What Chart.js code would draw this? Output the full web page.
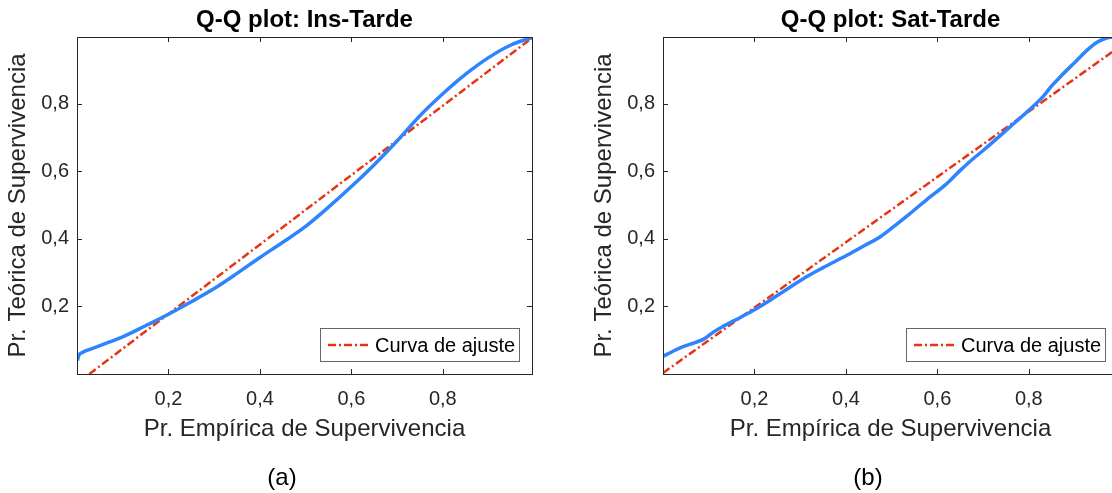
<!DOCTYPE html>
<html>
<head>
<meta charset="utf-8">
<script src="https://cdn.jsdelivr.net/npm/chart.js@4.4.1/dist/chart.umd.min.js"></script>
<style>
  html, body { margin: 0; padding: 0; background: #fff; overflow: hidden; }
  #wrap { position: relative; width: 1112px; height: 493px; overflow: hidden; }
  canvas { position: absolute; top: 0; }
  .cap { position: absolute; top: 463px; width: 100px; text-align: center; line-height: 28px;
         font: 24px 'Liberation Sans', Arial, sans-serif; color: #000; }
</style>
</head>
<body>
<div id="wrap">
  <canvas id="qqIns" width="556" height="493" style="left:0"></canvas>
  <canvas id="qqSat" width="556" height="493" style="left:586px"></canvas>
  <div class="cap" style="left:232px">(a)</div>
  <div class="cap" style="left:818px">(b)</div>
</div>
<script>
// tick positions and labels (decimal comma)
var tickValues = [0.2, 0.4, 0.6, 0.8];
var tickLabels = ['0,2', '0,4', '0,6', '0,8'];

// Ins-Tarde: empirical vs theoretical survival probability
var insEmp = [0.001, 0.004, 0.012, 0.03, 0.06, 0.1, 0.15, 0.2, 0.25, 0.3, 0.35, 0.4, 0.45,
              0.5, 0.55, 0.6, 0.65, 0.7, 0.75, 0.8, 0.85, 0.9, 0.95, 0.98, 0.995];
var insTeo = [0.040, 0.055, 0.064, 0.074, 0.089, 0.110, 0.143, 0.177, 0.214, 0.253, 0.298, 0.345, 0.390,
              0.437, 0.494, 0.555, 0.620, 0.690, 0.765, 0.830, 0.888, 0.937, 0.975, 0.990, 0.996];
var insFitX = [0.027, 0.995];
var insFitY = [0.0, 0.995];

// Sat-Tarde
var satEmp = [0.001, 0.02, 0.04, 0.07, 0.09, 0.11, 0.13, 0.17, 0.2, 0.23, 0.27, 0.31, 0.35, 0.4, 0.44,
              0.47, 0.5, 0.54, 0.58, 0.62, 0.65, 0.67, 0.7, 0.74, 0.78, 0.8, 0.83, 0.85, 0.87, 0.9,
              0.93, 0.95, 0.97, 0.985];
var satTeo = [0.053, 0.066, 0.079, 0.093, 0.104, 0.124, 0.140, 0.168, 0.190, 0.215, 0.250, 0.285, 0.315, 0.350, 0.380,
              0.402, 0.432, 0.475, 0.520, 0.563, 0.603, 0.628, 0.662, 0.709, 0.757, 0.781, 0.820, 0.853, 0.882, 0.922,
              0.962, 0.983, 0.995, 0.998];
var satFitX = [0.0, 0.995];
var satFitY = [0.003, 0.966];

var FONT = "'Liberation Sans', Arial, sans-serif";
var AXIS_COLOR = '#262626';
var BLUE = '#2e83ff';
var RED = '#e63312';
var DASH = [8, 3, 2, 3];

Chart.defaults.font.family = FONT;

function pts(xs, ys) {
  return xs.map(function (x, i) { return { x: x, y: ys[i] }; });
}

// box around the axes with inward ticks on all four sides
var framePlugin = {
  id: 'frame',
  afterDatasetsDraw: function (chart) {
    var ctx = chart.ctx, a = chart.chartArea;
    var xs = chart.scales.x, ys = chart.scales.y;
    ctx.save();
    ctx.strokeStyle = AXIS_COLOR;
    ctx.lineWidth = 1;
    ctx.beginPath();
    xs.ticks.forEach(function (t) {
      var px = Math.round(xs.getPixelForValue(t.value)) + 0.5;
      ctx.moveTo(px, a.bottom); ctx.lineTo(px, a.bottom - 5);
      ctx.moveTo(px, a.top); ctx.lineTo(px, a.top + 5);
    });
    ys.ticks.forEach(function (t) {
      var py = Math.round(ys.getPixelForValue(t.value)) + 0.5;
      ctx.moveTo(a.left, py); ctx.lineTo(a.left + 5, py);
      ctx.moveTo(a.right, py); ctx.lineTo(a.right - 5, py);
    });
    ctx.stroke();
    ctx.strokeRect(a.left + 0.5, a.top + 0.5, a.width, a.height);
    ctx.restore();
  }
};

// legend box inside the axes, lower right
var fitLegend = {
  id: 'fitLegend',
  afterDraw: function (chart) {
    var ctx = chart.ctx, a = chart.chartArea;
    var ds = chart.data.datasets[1];
    var bx = a.left + 243, by = a.bottom - 46, bw = 199, bh = 33;
    ctx.save();
    ctx.fillStyle = '#fff';
    ctx.fillRect(bx, by, bw, bh);
    ctx.strokeStyle = '#666';
    ctx.lineWidth = 1;
    ctx.strokeRect(bx + 0.5, by + 0.5, bw, bh);
    var cy = by + bh / 2 + 0.5;
    ctx.strokeStyle = ds.borderColor;
    ctx.lineWidth = ds.borderWidth;
    ctx.setLineDash(ds.borderDash);
    ctx.beginPath();
    ctx.moveTo(bx + 8, cy); ctx.lineTo(bx + 50, cy);
    ctx.stroke();
    ctx.setLineDash([]);
    ctx.fillStyle = '#000';
    ctx.font = '20px ' + FONT;
    ctx.textBaseline = 'middle';
    ctx.textAlign = 'left';
    ctx.fillText(ds.label, bx + 55, cy + 1);
    ctx.restore();
  }
};

function qqChart(id, title, emp, teo, fitX, fitY) {
  return new Chart(document.getElementById(id), {
    type: 'line',
    data: {
      datasets: [{
        label: 'Datos',
        data: pts(emp, teo),
        borderColor: BLUE,
        borderWidth: 3.5,
        pointRadius: 0,
        cubicInterpolationMode: 'monotone',
        clip: 0
      }, {
        label: 'Curva de ajuste',
        data: pts(fitX, fitY),
        borderColor: RED,
        borderWidth: 2.5,
        borderDash: DASH,
        pointRadius: 0,
        clip: 0
      }]
    },
    options: {
      responsive: false,
      animation: false,
      devicePixelRatio: 1,
      layout: { padding: { left: 0, right: 24, top: 0, bottom: 0 } },
      plugins: {
        legend: { display: false },
        tooltip: { enabled: false },
        title: {
          display: true,
          text: title,
          color: '#000',
          fullSize: false,
          font: { size: 24, weight: 'bold' },
          padding: { top: 5.6, bottom: 2.6 }
        }
      },
      scales: {
        x: {
          type: 'linear',
          min: 0,
          max: 0.995,
          afterBuildTicks: function (s) { s.ticks = tickValues.map(function (v) { return { value: v }; }); },
          afterFit: function (s) { s.height = 119; },
          ticks: {
            autoSkip: false,
            maxRotation: 0,
            padding: 13,
            color: AXIS_COLOR,
            font: { size: 20 },
            callback: function (v) { return tickLabels[tickValues.indexOf(v)]; }
          },
          grid: { display: false, drawTicks: false },
          border: { display: false },
          title: {
            display: true,
            text: 'Pr. Empírica de Supervivencia',
            color: AXIS_COLOR,
            font: { size: 24 },
            padding: { top: 0, bottom: 49.5 }
          }
        },
        y: {
          type: 'linear',
          min: 0,
          max: 0.998,
          afterBuildTicks: function (s) { s.ticks = tickValues.map(function (v) { return { value: v }; }); },
          afterFit: function (s) { s.width = 77; },
          ticks: {
            autoSkip: false,
            padding: 8,
            color: AXIS_COLOR,
            font: { size: 20 },
            callback: function (v) { return tickLabels[tickValues.indexOf(v)]; }
          },
          grid: { display: false, drawTicks: false },
          border: { display: false },
          title: {
            display: true,
            text: 'Pr. Teórica de Supervivencia',
            color: AXIS_COLOR,
            font: { size: 24 },
            padding: { top: 3.6, bottom: 0 }
          }
        }
      }
    },
    plugins: [framePlugin, fitLegend]
  });
}

qqChart('qqIns', 'Q-Q plot: Ins-Tarde', insEmp, insTeo, insFitX, insFitY);
qqChart('qqSat', 'Q-Q plot: Sat-Tarde', satEmp, satTeo, satFitX, satFitY);
</script>
</body>
</html>
